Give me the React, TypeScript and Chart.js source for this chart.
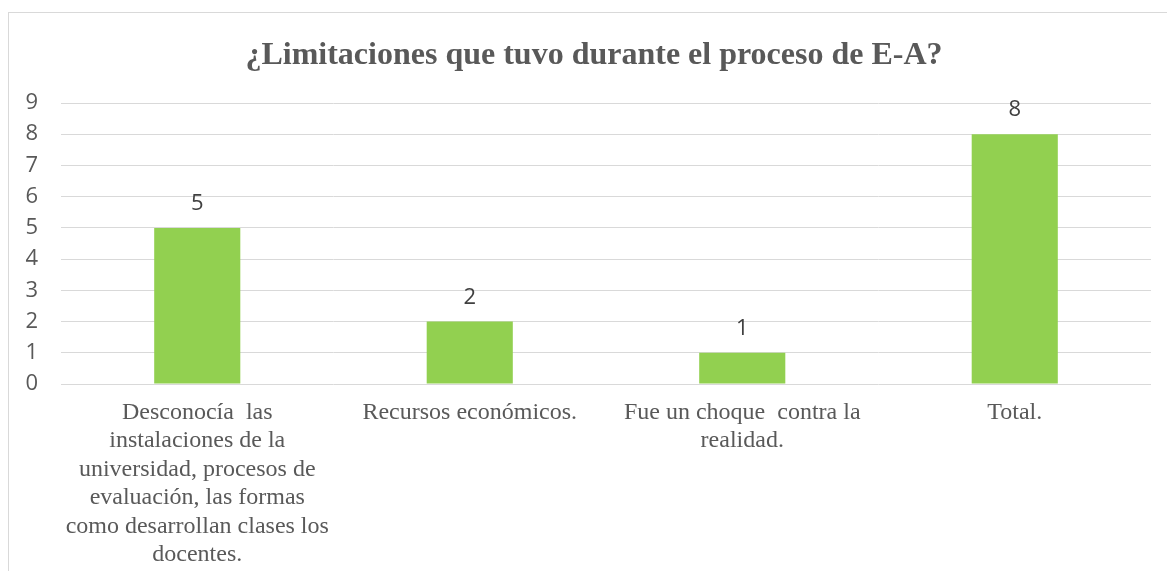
import React, { useEffect, useRef } from "react";
import { Chart, registerables } from "chart.js";

Chart.register(...registerables);

const TITLE = "¿Limitaciones que tuvo durante el proceso de E-A?";
const categories: string[][] = [
  ["Desconocía  las", "instalaciones de la", "universidad, procesos de", "evaluación, las formas", "como desarrollan clases los", "docentes."],
  ["Recursos económicos."],
  ["Fue un choque  contra la", "realidad."],
  ["Total."],
];
const values: number[] = [5, 2, 1, 8];
const yTicks: number[] = [0, 1, 2, 3, 4, 5, 6, 7, 8, 9];

const BAR_COLOR = "#92d050";
const GRID = "#d9d9d9";
const TEXT = "#595959";
const SERIF = "'Liberation Serif', 'Times New Roman', serif";
const SANS = "'Open Sans', sans-serif";

const valueLabels = {
  id: "valueLabels",
  afterDatasetsDraw(chart: any) {
    const ctx = chart.ctx;
    const meta = chart.getDatasetMeta(0);
    ctx.save();
    ctx.fillStyle = "#404040";
    ctx.font = `22px ${SANS}`;
    ctx.textAlign = "center";
    ctx.textBaseline = "alphabetic";
    meta.data.forEach((bar: any, i: number) => {
      ctx.fillText(String(values[i]), bar.x, bar.y - 18);
    });
    ctx.restore();
  },
};

const titlePlugin = {
  id: "customTitle",
  afterDraw(chart: any) {
    const ctx = chart.ctx;
    ctx.save();
    ctx.fillStyle = TEXT;
    ctx.font = `bold 32px ${SERIF}`;
    ctx.textAlign = "center";
    ctx.textBaseline = "alphabetic";
    ctx.fillText(TITLE, 585, 51);
    ctx.restore();
  },
};

export default function App() {
  const ref = useRef<HTMLCanvasElement | null>(null);
  useEffect(() => {
    if (!ref.current) return;
    const chart = new Chart(ref.current, {
      type: "bar",
      data: {
        labels: categories,
        datasets: [
          {
            data: values,
            backgroundColor: BAR_COLOR,
            borderWidth: 0,
            categoryPercentage: 1,
            barPercentage: 0.316,
          },
        ],
      },
      options: {
        animation: false,
        responsive: false,
        layout: { padding: { left: 0, right: 16, top: 90, bottom: 0 } },
        plugins: {
          legend: { display: false },
          tooltip: { enabled: false },
          title: { display: false },
        },
        scales: {
          x: {
            grid: { display: false, drawTicks: false },
            border: { display: false },
            ticks: {
              color: TEXT,
              autoSkip: false,
              maxRotation: 0,
              minRotation: 0,
              padding: 14,
              font: { family: SERIF, size: 24, lineHeight: 1.19 },
            },
            afterFit: (scale: any) => {
              scale.height = 187;
            },
          },
          y: {
            min: 0,
            max: 9,
            afterBuildTicks: (scale: any) => {
              scale.ticks = yTicks.map((v) => ({ value: v }));
            },
            grid: { color: GRID, lineWidth: 1, drawTicks: false },
            border: { display: false },
            ticks: {
              color: TEXT,
              padding: 23,
              font: { family: SANS, size: 22 },
            },
            afterFit: (scale: any) => {
              scale.width = 52;
            },
          },
        },
      },
      plugins: [valueLabels, titlePlugin],
    });
    return () => chart.destroy();
  }, []);

  return (
    <div
      style={{
        position: "fixed",
        left: 8,
        top: 12,
        width: 1159,
        height: 559,
        boxSizing: "border-box",
        borderTop: `1px solid ${GRID}`,
        borderLeft: `1px solid ${GRID}`,
        background: "#fff",
        overflow: "hidden",
      }}
    >
      <canvas ref={ref} width={1158} height={558} style={{ display: "block" }} />
    </div>
  );
}
